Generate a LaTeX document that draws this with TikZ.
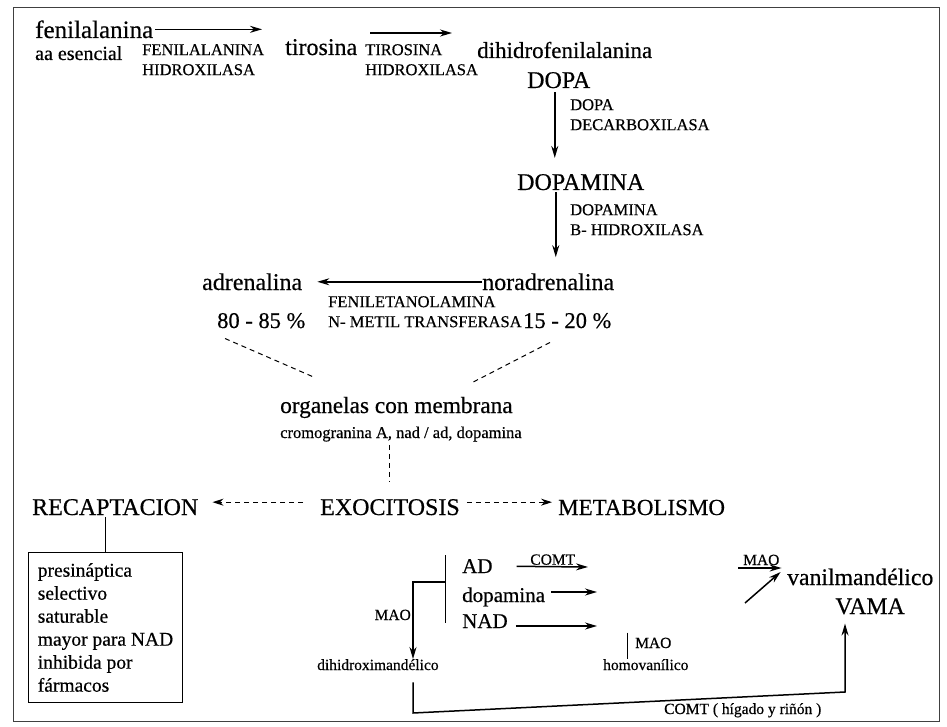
\documentclass[tikz,border=0pt]{standalone}
\usepackage{fontspec}
\setmainfont[FakeBold=0.5]{Liberation Serif}
\usetikzlibrary{positioning,arrows.meta}

\begin{document}
\begin{tikzpicture}[x=1pt,y=-1pt,
  mol/.style={inner sep=0pt,anchor=base west,font=\fontsize{24}{27}\selectfont},
  enz/.style={inner sep=0pt,anchor=north west,align=left,font=\fontsize{16.5}{20}\selectfont},
  lbl/.style={inner sep=0pt,anchor=base west,font=\fontsize{15.5}{18}\selectfont},
  met/.style={inner sep=0pt,anchor=base west,font=\fontsize{21}{24}\selectfont},
  flow/.style={-{Stealth[length=12pt,width=7pt]},line width=1.5pt},
  dline/.style={line width=1pt,dash pattern=on 5pt off 4pt},
  dflow/.style={dline,-{Stealth[length=11pt,width=7pt]}}]
  \useasboundingbox (0,0) rectangle (947,727);
  \draw[line width=1pt,black!75] (13,8) rectangle (939,721);

  % sintesis
  \node[mol,font=\fontsize{25}{27}\selectfont] (fen) at (35,38) {fenilalanina};
  \node[mol,font=\fontsize{20}{22}\selectfont] (esen) at (35,60) {aa esencial};
  \node[enz] (fhx) at (142,44) {FENILALANINA\\HIDROXILASA};
  \node[mol] (tir) at (285,55) {tirosina};
  \node[enz] (thx) at (365,44) {TIROSINA\\HIDROXILASA};
  \node[mol,font=\fontsize{23}{27}\selectfont] (dhf) at (477,58) {dihidrofenilalanina};
  \node[mol] (dopa) at (527,88) {DOPA};
  \node[enz] (ddc) at (570,99) {DOPA\\DECARBOXILASA};
  \node[mol] (dpm) at (517,190) {DOPAMINA};
  \node[enz] (dbh) at (570,204) {DOPAMINA\\B- HIDROXILASA};
  \node[mol] (adr) at (202,290) {adrenalina};
  \node[mol] (nor) at (482,290) {noradrenalina};
  \node[enz] (pnmt) at (328,296) {FENILETANOLAMINA\\N- METIL TRANSFERASA};
  \node[mol,font=\fontsize{22.5}{25}\selectfont] (pad) at (217,328) {80 - 85 \%};
  \node[mol,font=\fontsize{22.5}{25}\selectfont] (pnor) at (523,328) {15 - 20 \%};

  \coordinate (t1) at (370,33);
  \coordinate (t2) at (452,33);
  \draw[flow] ([xshift=2pt]fen.east) -- ([xshift=-23pt]tir.west |- fen.east);
  \draw[flow] (t1) -- (t2);
  \draw[flow,shorten <=4pt,shorten >=16pt] ([xshift=-4pt]dopa.south) -- ([xshift=-4pt]dopa.south |- dpm.north);
  \draw[flow,shorten <=2pt,shorten >=16pt] ([xshift=-25pt]dpm.south) -- ([xshift=-25pt]dpm.south |- nor.north);
  \draw[flow,shorten >=15pt] (nor.west) -- (nor.west -| adr.east);

  % vesiculas
  \node[mol,font=\fontsize{23.3}{27}\selectfont] (org) at (280,413) {organelas con membrana};
  \node[enz,anchor=base west] (crom) at (280,438) {cromogranina A, nad / ad, dopamina};
  \draw[dline] ([xshift=8pt,yshift=-10pt]pad.south west) -- ([xshift=35pt,yshift=19pt]org.north west);
  \draw[dline] ([xshift=27pt,yshift=-14pt]pnor.south west) -- ([xshift=192pt,yshift=14pt]org.north west);

  \node[mol] (recap) at (32,515) {RECAPTACION};
  \node[mol] (exo) at (320,515) {EXOCITOSIS};
  \node[mol,font=\fontsize{23}{27}\selectfont] (meta) at (558,515) {METABOLISMO};
  \draw[dline,shorten <=3pt,shorten >=18pt] (crom.south -| exo.north) -- (exo.north);
  \draw[dflow,shorten <=17pt,shorten >=14pt] ([yshift=5pt]exo.west) -- ([yshift=5pt]exo.west -| recap.east);
  \draw[dflow,shorten <=7pt,shorten >=6pt] ([yshift=5pt]exo.east) -- ([yshift=5pt]exo.east -| meta.west);

  % recaptacion
  \node[draw,line width=1pt,anchor=north west,minimum width=154pt,minimum height=150pt,
        align=left,inner sep=0pt,font=\fontsize{19.5}{23}\selectfont] (rbox) at (28,552)
        {presináptica\\selectivo\\saturable\\mayor para NAD\\inhibida por\\fármacos};
  \draw[line width=1pt,shorten >=2pt] (rbox.north) -- (rbox.north |- recap.south);

  % metabolismo
  \node[met] (ad) at (462,573) {AD};
  \node[met] (dopm) at (462,602) {dopamina};
  \node[met] (nad) at (462,628) {NAD};
  \coordinate (bar1) at (445,555);
  \coordinate (bar2) at (445,623);
  \coordinate (fork) at (445,582);
  \coordinate (knee) at (413,582);
  \node[lbl] (dhx) at (317,670) {dihidroximandélico};
  \node[lbl,anchor=base east] (mao1) at (411,620) {MAO};
  \draw[line width=1pt] (bar1) -- (bar2);
  \draw[flow] (fork) -- (knee) -- (knee |- dhx.north);

  \coordinate (adend) at (588,567);
  \coordinate (dpend) at (597,592);
  \coordinate (nadend) at (597,626);
  \draw[flow,shorten <=24pt] (ad.east) -- (adend)
      node[pos=0.63,anchor=base,yshift=2pt,inner sep=0pt,font=\fontsize{15.5}{18}\selectfont] {COMT};
  \draw[flow,shorten <=6pt] (dopm.east |- dpend) -- (dpend);
  \draw[flow,shorten <=8pt] (nad.east |- nadend) -- (nadend);

  \node[lbl] (mao2) at (635,648) {MAO};
  \node[lbl] (hva) at (603,670) {homovanílico};
  \draw[line width=1pt] ([xshift=-8pt,yshift=5pt]mao2.north west) -- ([xshift=-8pt]mao2.west |- hva.north);

  \node[mol,font=\fontsize{23.7}{27}\selectfont] (vma) at (787,585) {vanilmandélico};
  \node[mol,anchor=base,font=\fontsize{23.7}{27}\selectfont] (vama) at (870,614) {VAMA};
  \node[lbl] (mao3) at (743,565) {MAO};
  \coordinate (dg) at (745,603);
  \draw[flow] ([xshift=-5pt,yshift=-3pt]mao3.base west) -- ([xshift=2pt,yshift=-3pt]mao3.base east);
  \draw[flow] (dg) -- ([xshift=1pt,yshift=-7pt]mao3.base east);

  \coordinate (c1) at (413,713);
  \coordinate (c2) at (845,692);
  \draw[flow,shorten <=12pt,shorten >=9pt] (dhx.south -| knee) -- (c1) -- (c2) -- (c2 |- vama.south);
  \node[lbl] (comtb) at (664,714) {COMT ( hígado y riñón )};
\end{tikzpicture}
\end{document}
